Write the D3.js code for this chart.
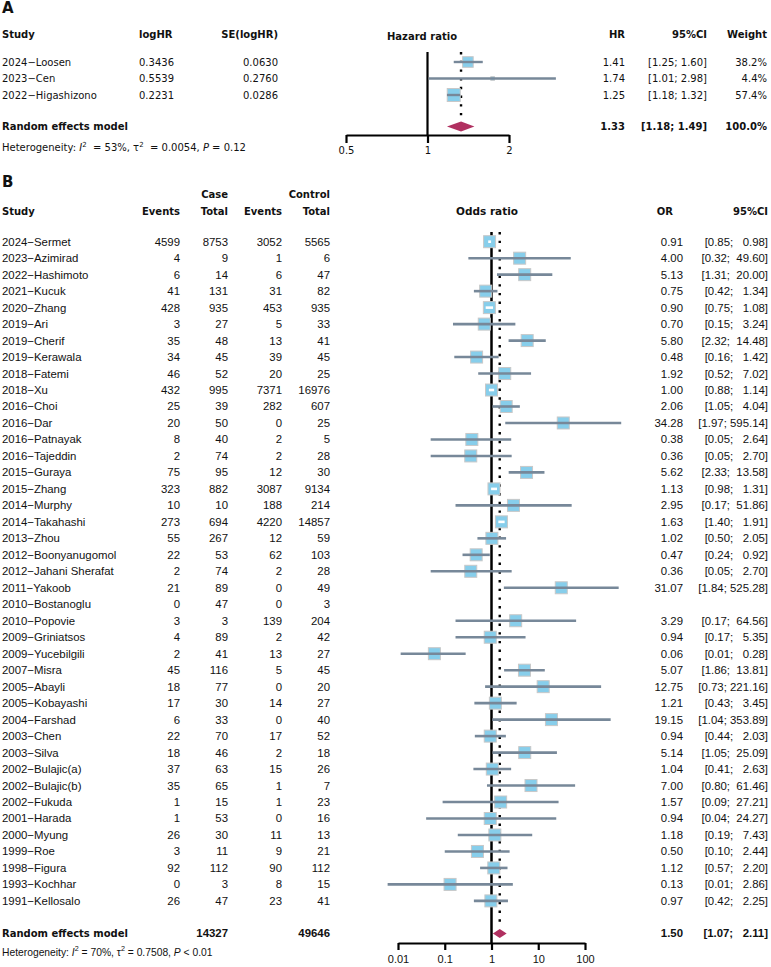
<!DOCTYPE html>
<html><head><meta charset="utf-8">
<script src="https://cdn.jsdelivr.net/npm/d3@7"></script>
<style>body{margin:0;background:#fff}</style>
</head><body><svg id="c" width="771" height="967"></svg>
<script>
// ---------------- Panel A data ----------------
const aStudies = ["2024\u2212Loosen", "2023\u2212Cen", "2022\u2212Higashizono"];
const aLogHR = [0.3436, 0.5539, 0.2231];
const aSE = [0.0630, 0.2760, 0.0286];
const aHR = [1.41, 1.74, 1.25];
const aLower = [1.25, 1.01, 1.18];
const aUpper = [1.60, 2.98, 1.32];
const aWeight = [38.2, 4.4, 57.4];
const aModel = [1.33, 1.18, 1.49];   // HR, lower, upper
const aModelWeight = 100.0;
const aTicks = [0.5, 1, 2];
const aHet = ["53%", "0.0054", "= 0.12"];

// ---------------- Panel B data ----------------
const bStudies = ["2024\u2212Sermet","2023\u2212Azimirad","2022\u2212Hashimoto","2021\u2212Kucuk","2020\u2212Zhang","2019\u2212Ari","2019\u2212Cherif","2019\u2212Kerawala","2018\u2212Fatemi","2018\u2212Xu","2016\u2212Choi","2016\u2212Dar","2016\u2212Patnayak","2016\u2212Tajeddin","2015\u2212Guraya","2015\u2212Zhang","2014\u2212Murphy","2014\u2212Takahashi","2013\u2212Zhou","2012\u2212Boonyanugomol","2012\u2212Jahani Sherafat","2011\u2212Yakoob","2010\u2212Bostanoglu","2010\u2212Popovie","2009\u2212Griniatsos","2009\u2212Yucebilgili","2007\u2212Misra","2005\u2212Abayli","2005\u2212Kobayashi","2004\u2212Farshad","2003\u2212Chen","2003\u2212Silva","2002\u2212Bulajic(a)","2002\u2212Bulajic(b)","2002\u2212Fukuda","2001\u2212Harada","2000\u2212Myung","1999\u2212Roe","1998\u2212Figura","1993\u2212Kochhar","1991\u2212Kellosalo"];
const bCaseEvents = [4599,4,6,41,428,3,35,34,46,432,25,20,8,2,75,323,10,273,55,22,2,21,0,3,4,2,45,18,17,6,22,18,37,35,1,1,26,3,92,0,26];
const bCaseTotal = [8753,9,14,131,935,27,48,45,52,995,39,50,40,74,95,882,10,694,267,53,74,89,47,3,89,41,116,77,30,33,70,46,63,65,15,53,30,11,112,3,47];
const bCtrlEvents = [3052,1,6,31,453,5,13,39,20,7371,282,0,2,2,12,3087,188,4220,12,62,2,0,0,139,2,13,5,0,14,0,17,2,15,1,1,0,11,9,90,8,23];
const bCtrlTotal = [5565,6,47,82,935,33,41,45,25,16976,607,25,5,28,30,9134,214,14857,59,103,28,49,3,204,42,27,45,20,27,40,52,18,26,7,23,16,13,21,112,15,41];
const bOR = [0.91,4.00,5.13,0.75,0.90,0.70,5.80,0.48,1.92,1.00,2.06,34.28,0.38,0.36,5.62,1.13,2.95,1.63,1.02,0.47,0.36,31.07,null,3.29,0.94,0.06,5.07,12.75,1.21,19.15,0.94,5.14,1.04,7.00,1.57,0.94,1.18,0.50,1.12,0.13,0.97];
const bLower = [0.85,0.32,1.31,0.42,0.75,0.15,2.32,0.16,0.52,0.88,1.05,1.97,0.05,0.05,2.33,0.98,0.17,1.40,0.50,0.24,0.05,1.84,null,0.17,0.17,0.0114,1.86,0.73,0.43,1.04,0.44,1.05,0.41,0.80,0.09,0.04,0.19,0.10,0.57,0.006,0.42];
const bUpper = [0.98,49.60,20.00,1.34,1.08,3.24,14.48,1.42,7.02,1.14,4.04,595.14,2.64,2.70,13.58,1.31,51.86,1.91,2.05,0.92,2.70,525.28,null,64.56,5.35,0.28,13.81,221.16,3.45,353.89,2.03,25.09,2.63,61.46,27.21,24.27,7.43,2.44,2.20,2.86,2.25];
const bModel = [1.50, 1.07, 2.11];
const bTotals = [14327, 49646];
const bTicks = [0.01, 0.1, 1, 10, 100];
const bHet = ["70%", "0.7508", "< 0.01"];

// ---------------- styles ----------------
const FA = "'DejaVu Sans', Verdana, sans-serif";
const FB = "'Liberation Sans', Arial, sans-serif";
const INK = "#111";
const SQ_FILL = "#87ceeb", SQ_STROKE = "#c8c8c8", CI_COL = "#778899", DIA = "#b03060";

const svg = d3.select("#c");
const f2 = d3.format(".2f"), f4 = d3.format(".4f");

function txt(g, x, y, s, o = {}) {
  return g.append("text").attr("x", x).attr("y", y).attr("dy", "0.35em")
    .attr("text-anchor", o.anchor || "start")
    .attr("font-family", o.font || FA).attr("font-size", o.size || 10)
    .attr("font-weight", o.bold ? "bold" : "normal").attr("fill", INK)
    .text(s);
}
function ciText(l, u, w) {
  const us = f2(u);
  const pad = "\u00A0".repeat(1 + Math.max(0, w - us.length));
  return "[" + f2(l) + ";" + pad + us + "]";
}
function het(g, x, y, vals, font, size, extra) {
  const t = g.append("text").attr("x", x).attr("y", y).attr("dy", "0.35em")
    .attr("font-family", font).attr("font-size", size).attr("fill", INK);
  t.append("tspan").text("Heterogeneity: ");
  t.append("tspan").attr("font-style", "italic").text("I");
  t.append("tspan").attr("font-size", size * 0.7).attr("dy", -size * 0.4).text("2");
  t.append("tspan").attr("dy", size * 0.4).text((extra ? "\u00A0 " : " ") + "= " + vals[0] + ", \u03c4");
  t.append("tspan").attr("font-size", size * 0.7).attr("dy", -size * 0.4).text("2");
  t.append("tspan").attr("dy", size * 0.4).text((extra ? "\u00A0 " : " ") + "= " + vals[1] + ", ");
  t.append("tspan").attr("font-style", "italic").text("P");
  t.append("tspan").text(" " + vals[2]);
}

// ================= Panel A =================
const gA = svg.append("g");
txt(gA, 2, 8, "A", { bold: true, size: 15 });
const xA = d3.scaleLog().domain([0.5, 2]).range([346, 509]);
const yA = d3.scaleLinear().domain([0, 2]).range([62, 95]);
const aHeadY = 34, aModelY = 126.5, aAxisY = 135, aTop = 52;

txt(gA, 2, aHeadY, "Study", { bold: true });
txt(gA, 139, aHeadY, "logHR", { bold: true });
txt(gA, 278, aHeadY, "SE(logHR)", { bold: true, anchor: "end" });
txt(gA, 422, aHeadY + 2, "Hazard ratio", { bold: true, anchor: "middle" });
txt(gA, 625, aHeadY, "HR", { bold: true, anchor: "end" });
txt(gA, 707, aHeadY, "95%CI", { bold: true, anchor: "end" });
txt(gA, 767, aHeadY, "Weight", { bold: true, anchor: "end" });

aStudies.forEach((s, i) => {
  const y = yA(i);
  txt(gA, 2, y, s);
  txt(gA, 139, y, f4(aLogHR[i]));
  txt(gA, 278, y, f4(aSE[i]), { anchor: "end" });
  txt(gA, 625, y, f2(aHR[i]), { anchor: "end" });
  txt(gA, 707, y, ciText(aLower[i], aUpper[i], 4), { anchor: "end" });
  txt(gA, 767, y, d3.format(".1f")(aWeight[i]) + "%", { anchor: "end" });
});
txt(gA, 2, aModelY, "Random effects model", { bold: true });
txt(gA, 625, aModelY, f2(aModel[0]), { bold: true, anchor: "end" });
txt(gA, 707, aModelY, ciText(aModel[1], aModel[2], 4), { bold: true, anchor: "end" });
txt(gA, 767, aModelY, d3.format(".1f")(aModelWeight) + "%", { bold: true, anchor: "end" });
het(gA, 2, 147, aHet, FA, 10, true);

// reference lines
gA.append("line").attr("x1", xA(1)).attr("x2", xA(1)).attr("y1", aTop).attr("y2", aAxisY)
  .attr("stroke", "#000").attr("stroke-width", 2.2);
gA.append("line").attr("x1", xA(aModel[0])).attr("x2", xA(aModel[0])).attr("y1", aTop).attr("y2", aModelY - 6)
  .attr("stroke", "#000").attr("stroke-width", 2.4).attr("stroke-dasharray", "2.4,6.3");
// squares + CI
const maxW = d3.max(aWeight);
aStudies.forEach((s, i) => {
  const y = yA(i), side = 13 * Math.sqrt(aWeight[i] / maxW), cx = xA(aHR[i]);
  gA.append("rect").attr("x", cx - side / 2).attr("y", y - side / 2).attr("width", side).attr("height", side)
    .attr("fill", SQ_FILL).attr("stroke", SQ_STROKE).attr("stroke-width", 1);
  gA.append("line").attr("x1", xA(aLower[i])).attr("x2", xA(aUpper[i])).attr("y1", y).attr("y2", y)
    .attr("stroke", CI_COL).attr("stroke-width", 2.4);
});
gA.append("path").attr("fill", DIA)
  .attr("d", `M${xA(aModel[1])},${aModelY}L${xA(aModel[0])},${aModelY - 5}L${xA(aModel[2])},${aModelY}L${xA(aModel[0])},${aModelY + 5}Z`);
const axA = gA.append("g").attr("transform", `translate(0,${aAxisY})`)
  .call(d3.axisBottom(xA).tickValues(aTicks).tickSize(8).tickSizeOuter(0).tickPadding(4).tickFormat(d => String(d)));
axA.select(".domain").attr("stroke", "#000").attr("stroke-width", 2.2);
axA.selectAll(".tick line").attr("stroke", "#000").attr("stroke-width", 2.2);
axA.selectAll(".tick text").attr("font-family", FA).attr("font-size", 10).attr("fill", INK);

// ================= Panel B =================
const gB = svg.append("g");
txt(gB, 2, 182, "B", { bold: true, size: 15 });
const xB = d3.scaleLog().domain([0.01, 100]).range([398, 585]);
const yB = d3.scaleLinear().domain([0, bStudies.length - 1]).range([241.7, 900.9]);
const bModelY = 933.5, bAxisY = 943, bTop = 232;

txt(gB, 228, 194, "Case", { bold: true, anchor: "end" });
txt(gB, 330, 194, "Control", { bold: true, anchor: "end" });
txt(gB, 2, 211, "Study", { bold: true });
txt(gB, 180, 211, "Events", { bold: true, anchor: "end" });
txt(gB, 228, 211, "Total", { bold: true, anchor: "end" });
txt(gB, 282, 211, "Events", { bold: true, anchor: "end" });
txt(gB, 330, 211, "Total", { bold: true, anchor: "end" });
txt(gB, 487, 211, "Odds ratio", { bold: true, anchor: "middle", size: 10.5 });
txt(gB, 673, 211, "OR", { bold: true, anchor: "end" });
txt(gB, 768, 211, "95%CI", { bold: true, anchor: "end" });

const oB = { font: FB, size: 11.4 };
bStudies.forEach((s, i) => {
  const y = yB(i);
  txt(gB, 2, y, s, oB);
  txt(gB, 180, y, bCaseEvents[i], { ...oB, anchor: "end" });
  txt(gB, 228, y, bCaseTotal[i], { ...oB, anchor: "end" });
  txt(gB, 282, y, bCtrlEvents[i], { ...oB, anchor: "end" });
  txt(gB, 330, y, bCtrlTotal[i], { ...oB, anchor: "end" });
  if (bOR[i] != null) {
    txt(gB, 683, y, f2(bOR[i]), { ...oB, anchor: "end" });
    txt(gB, 768, y, ciText(bLower[i], bUpper[i], 6), { ...oB, anchor: "end" });
  }
});
txt(gB, 2, bModelY, "Random effects model", { bold: true });
txt(gB, 228, bModelY, bTotals[0], { font: FB, size: 11.4, bold: true, anchor: "end" });
txt(gB, 330, bModelY, bTotals[1], { font: FB, size: 11.4, bold: true, anchor: "end" });
txt(gB, 683, bModelY, f2(bModel[0]), { font: FB, size: 11.4, bold: true, anchor: "end" });
txt(gB, 768, bModelY, ciText(bModel[1], bModel[2], 6), { font: FB, size: 11.4, bold: true, anchor: "end" });
het(gB, 2, 952, bHet, FB, 10.3, false);

gB.append("line").attr("x1", xB(1)).attr("x2", xB(1)).attr("y1", bTop).attr("y2", bAxisY)
  .attr("stroke", "#000").attr("stroke-width", 2.5);
gB.append("line").attr("x1", xB(bModel[0])).attr("x2", xB(bModel[0])).attr("y1", bTop).attr("y2", bModelY - 6)
  .attr("stroke", "#000").attr("stroke-width", 2.4).attr("stroke-dasharray", "2.4,6.3");
const SIDE_B = 12;
bStudies.forEach((s, i) => {
  if (bOR[i] == null) return;
  const y = yB(i), cx = xB(bOR[i]);
  gB.append("rect").attr("x", cx - SIDE_B / 2).attr("y", y - SIDE_B / 2).attr("width", SIDE_B).attr("height", SIDE_B)
    .attr("fill", SQ_FILL).attr("stroke", SQ_STROKE).attr("stroke-width", 1);
  const x1 = xB(bLower[i]), x2 = xB(bUpper[i]);
  const inside = x1 >= cx - SIDE_B / 2 && x2 <= cx + SIDE_B / 2;
  gB.append("line").attr("x1", x1).attr("x2", x2).attr("y1", y).attr("y2", y)
    .attr("stroke", inside ? "#fff" : CI_COL).attr("stroke-width", 2.6);
});
gB.append("path").attr("fill", DIA)
  .attr("d", `M${xB(bModel[1])},${bModelY}L${xB(bModel[0])},${bModelY - 4.5}L${xB(bModel[2])},${bModelY}L${xB(bModel[0])},${bModelY + 4.5}Z`);
const axB = gB.append("g").attr("transform", `translate(0,${bAxisY})`)
  .call(d3.axisBottom(xB).tickValues(bTicks).tickSize(7).tickSizeOuter(0).tickPadding(5).tickFormat(d => String(d)));
axB.select(".domain").attr("stroke", "#000").attr("stroke-width", 2.2);
axB.selectAll(".tick line").attr("stroke", "#000").attr("stroke-width", 2.2);
axB.selectAll(".tick text").attr("font-family", FB).attr("font-size", 11).attr("fill", INK);
</script></body></html>
